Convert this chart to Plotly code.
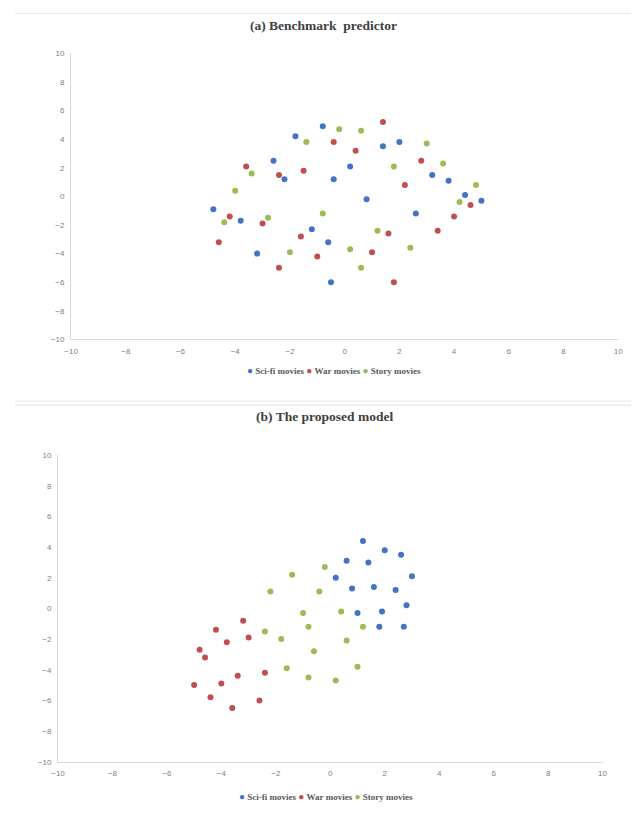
import plotly.graph_objects as go

# ---- (a) Benchmark predictor ----
a_scifi_x = [-0.8, -1.8, -2.6, -2.2, -0.4, 0.2, -4.8, -3.8, -1.2, -0.6, -3.2, -0.5,
             2.0, 1.4, 3.2, 3.8, 4.4, 5.0, 0.8, 2.6]
a_scifi_y = [4.9, 4.2, 2.5, 1.2, 1.2, 2.1, -0.9, -1.7, -2.3, -3.2, -4.0, -6.0,
             3.8, 3.5, 1.5, 1.1, 0.1, -0.3, -0.2, -1.2]
a_war_x = [-0.4, -3.6, -2.4, -1.5, -4.2, -3.0, -4.6, -1.6, -1.0, -2.4,
           1.4, 0.4, 2.8, 2.2, 4.0, 4.6, 3.4, 1.6, 1.0, 1.8]
a_war_y = [3.8, 2.1, 1.5, 1.8, -1.4, -1.9, -3.2, -2.8, -4.2, -5.0,
           5.2, 3.2, 2.5, 0.8, -1.4, -0.6, -2.4, -2.6, -3.9, -6.0]
a_story_x = [-0.2, -1.4, -3.4, -4.0, -4.4, -2.8, -0.8, -2.0, 0.2,
             0.6, 3.0, 1.8, 3.6, 4.8, 4.2, 1.2, 2.4, 0.6]
a_story_y = [4.7, 3.8, 1.6, 0.4, -1.8, -1.5, -1.2, -3.9, -3.7,
             4.6, 3.7, 2.1, 2.3, 0.8, -0.4, -2.4, -3.6, -5.0]

# ---- (b) The proposed model ----
b_scifi_x = [1.2, 2.0, 2.6, 0.6, 1.4, 0.2, 3.0, 0.8, 1.6, 2.4, 2.8, 1.0, 1.9, 1.8, 2.7]
b_scifi_y = [4.4, 3.8, 3.5, 3.1, 3.0, 2.0, 2.1, 1.3, 1.4, 1.2, 0.2, -0.3, -0.2, -1.2, -1.2]
b_war_x = [-3.2, -4.2, -3.8, -3.0, -4.8, -4.6, -3.4, -2.4, -5.0, -4.0, -4.4, -3.6, -2.6]
b_war_y = [-0.8, -1.4, -2.2, -1.9, -2.7, -3.2, -4.4, -4.2, -5.0, -4.9, -5.8, -6.5, -6.0]
b_story_x = [-0.2, -1.4, -2.2, -0.4, -1.0, -0.8, -2.4, -1.8, -0.6, -1.6, -0.8, 0.2,
             0.4, 1.2, 0.6, 1.0]
b_story_y = [2.7, 2.2, 1.1, 1.1, -0.3, -1.2, -1.5, -2.0, -2.8, -3.9, -4.5, -4.7,
             -0.2, -1.2, -2.1, -3.8]

series_names = ["Sci-fi movies", "War movies", "Story movies"]
series_colors = ["#4472C4", "#C0504D", "#9BBB59"]
tick_vals = [-10, -8, -6, -4, -2, 0, 2, 4, 6, 8, 10]
panel_titles = ["(a) Benchmark  predictor", "(b) The proposed model"]

W, H = 636, 833


def px_y(p):
    return 1 - p / H


fig = go.Figure()

panels = [
    (("x", "y"), [(a_scifi_x, a_scifi_y), (a_war_x, a_war_y), (a_story_x, a_story_y)]),
    (("x2", "y2"), [(b_scifi_x, b_scifi_y), (b_war_x, b_war_y), (b_story_x, b_story_y)]),
]
for (xa, ya), data in panels:
    for (xs, ys), name, col in zip(data, series_names, series_colors):
        fig.add_trace(go.Scatter(
            x=xs, y=ys, mode="markers", name=name, xaxis=xa, yaxis=ya,
            showlegend=False,
            marker=dict(color=col, size=6, line=dict(width=0)),
        ))

axis_common = dict(
    range=[-10, 10], tickmode="array", tickvals=tick_vals,
    showgrid=False, zeroline=False, showline=True,
    linecolor="#d9d9d9", linewidth=1, ticks="",
    tickfont=dict(family="Liberation Sans, Arial, sans-serif", size=8, color="#808080"),
    fixedrange=True,
)

fig.update_layout(
    width=W, height=H,
    margin=dict(l=0, r=0, t=0, b=0),
    paper_bgcolor="white", plot_bgcolor="white",
    xaxis=dict(axis_common, domain=[65.3 / W, 623 / W], anchor="y", ticklabelstandoff=4),
    yaxis=dict(axis_common, domain=[px_y(339), px_y(50)], anchor="x", ticklabelstandoff=4),
    xaxis2=dict(axis_common, domain=[52 / W, 607 / W], anchor="y2", ticklabelstandoff=4),
    yaxis2=dict(axis_common, domain=[px_y(766), px_y(456)], anchor="x2", ticklabelstandoff=4),
)

# separator rules across the page
fig.add_shape(type="line", xref="paper", yref="paper", x0=8 / W, x1=1,
              y0=px_y(9.5), y1=px_y(9.5), line=dict(color="#e3e3e3", width=1))
fig.add_shape(type="line", xref="paper", yref="paper", x0=8 / W, x1=1,
              y0=px_y(401.5), y1=px_y(401.5), line=dict(color="#f0f0f0", width=1.5))
fig.add_shape(type="line", xref="paper", yref="paper", x0=8 / W, x1=1,
              y0=px_y(405.5), y1=px_y(405.5), line=dict(color="#e3e3e3", width=1))

title_font = dict(family="Liberation Serif, Times New Roman, serif", size=13.5, color="#404040")
for text, cx, cy in zip(panel_titles, [323, 323.5], [22, 417]):
    fig.add_annotation(text="<b>" + text + "</b>", xref="paper", yref="paper",
                       x=cx / W, y=px_y(cy), xanchor="center", yanchor="middle",
                       showarrow=False, font=title_font)

# legend rows: coloured dot followed by the series name
legend_parts = []
for name, col in zip(series_names, series_colors):
    legend_parts.append(
        "<span style='color:%s;font-size:10px'>●</span> <b>%s</b>" % (col, name))
legend_text = " ".join(legend_parts)
legend_font = dict(family="Liberation Serif, Times New Roman, serif", size=9, color="#595959")
for cx, cy in [(333.5, 370), (325.5, 801.5)]:
    fig.add_annotation(text=legend_text, xref="paper", yref="paper",
                       x=cx / W, y=px_y(cy), xanchor="center", yanchor="middle",
                       showarrow=False, font=legend_font)

fig.write_html("out.html")
